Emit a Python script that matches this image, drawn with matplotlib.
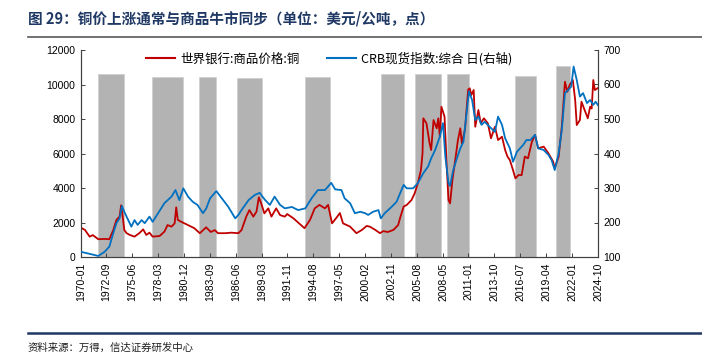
import numpy as np
import matplotlib
matplotlib.use("Agg")
from matplotlib import pyplot as plt
from matplotlib.lines import Line2D

plt.rcParams['font.family'] = ['Liberation Sans', 'Noto Sans CJK SC', 'DejaVu Sans']
CJK = ['Noto Sans CJK SC', 'DejaVu Sans']

# 世界银行:商品价格:铜 (USD/t)
cu_dates = ["1970-01", "1970-06", "1970-12", "1971-04", "1971-11", "1972-07", "1973-01", "1973-06",
            "1973-10", "1974-02", "1974-04", "1974-06", "1974-08", "1974-11", "1975-03", "1975-09",
            "1976-03", "1976-08", "1976-12", "1977-04", "1977-08", "1978-05", "1978-11", "1979-03",
            "1979-08", "1979-12", "1980-02", "1980-04", "1980-08", "1981-05", "1982-01", "1982-08",
            "1983-04", "1983-10", "1984-03", "1984-07", "1985-04", "1985-12", "1986-09", "1987-01",
            "1987-07", "1987-11", "1988-04", "1988-08", "1988-11", "1989-02", "1989-06", "1989-11",
            "1990-03", "1990-09", "1991-02", "1991-08", "1991-11", "1992-07", "1993-09", "1994-04",
            "1994-10", "1995-04", "1995-11", "1996-03", "1996-08", "1997-02", "1997-06", "1997-10",
            "1998-07", "1999-03", "1999-10", "2000-04", "2000-08", "2001-03", "2001-09", "2002-01",
            "2002-07", "2003-02", "2003-08", "2003-11", "2004-03", "2004-07", "2005-01", "2005-05",
            "2005-09", "2006-01", "2006-03", "2006-04", "2006-08", "2006-12", "2007-02", "2007-05",
            "2007-09", "2007-11", "2008-01", "2008-03", "2008-07", "2008-10", "2008-12", "2009-02",
            "2009-05", "2009-08", "2009-12", "2010-03", "2010-05", "2010-09", "2011-01", "2011-03",
            "2011-05", "2011-08", "2011-10", "2012-02", "2012-05", "2012-09", "2013-02", "2013-06",
            "2013-11", "2014-03", "2014-08", "2014-12", "2015-03", "2015-06", "2015-10", "2016-01",
            "2016-05", "2016-09", "2017-01", "2017-05", "2017-10", "2018-02", "2018-06", "2019-01",
            "2019-07", "2020-01", "2020-03", "2020-08", "2020-12", "2021-04", "2021-07", "2021-10",
            "2022-02", "2022-05", "2022-07", "2022-11", "2023-01", "2023-05", "2023-09", "2023-12",
            "2024-02", "2024-04", "2024-06", "2024-10"]
cu_values = [1700, 1570, 1180, 1270, 1030, 1050, 1030, 1560,
             2150, 2340, 3000, 2340, 1570, 1380, 1280, 1180,
             1380, 1600, 1280, 1410, 1180, 1220, 1470, 1850,
             1760, 1950, 2880, 2150, 2050, 1850, 1670, 1380,
             1720, 1450, 1560, 1380, 1380, 1410, 1380, 1560,
             2340, 2720, 2340, 2630, 3460, 3110, 2530, 2820,
             2340, 2820, 2430, 2340, 2490, 2240, 1670, 2150,
             2820, 3020, 2820, 3020, 1950, 2300, 2550, 1950,
             1760, 1380, 1570, 1800, 1760, 1570, 1380, 1500,
             1450, 1570, 1850, 2340, 2920, 3020, 3300, 3690,
             4270, 5040, 6010, 8040, 7750, 6590, 6200, 7940,
             7460, 8040, 6970, 8710, 8130, 5040, 3300, 3110,
             4460, 5430, 6780, 7460, 6590, 7400, 9700, 9780,
             9390, 9680, 7550, 8520, 7750, 8040, 7750, 6880,
             7550, 6780, 6970, 6200, 5820, 5620, 5040, 4560,
             4750, 4750, 5820, 5720, 6680, 7070, 6300, 6400,
             6010, 5530, 5140, 5820, 7550, 10160, 9580, 9970,
             10260, 9100, 7650, 7940, 9000, 8520, 8040, 8710,
             8610, 10260, 9680, 9800]

# CRB现货指数:综合 (right axis)
crb_dates = ["1970-01", "1971-02", "1971-11", "1972-07", "1973-01", "1973-06", "1973-10", "1974-02",
             "1974-05", "1974-08", "1975-01", "1975-05", "1975-09", "1976-01", "1976-06", "1976-10",
             "1977-04", "1977-08", "1978-03", "1978-11", "1979-08", "1980-01", "1980-06", "1980-11",
             "1981-05", "1981-11", "1982-05", "1982-12", "1983-04", "1983-09", "1984-05", "1984-12",
             "1985-08", "1986-05", "1986-09", "1987-01", "1987-10", "1988-06", "1988-12", "1989-07",
             "1990-01", "1990-07", "1991-02", "1991-08", "1992-05", "1993-01", "1993-10", "1994-06",
             "1995-02", "1995-11", "1996-07", "1996-12", "1997-08", "1997-12", "1998-07", "1999-01",
             "1999-08", "2000-02", "2000-06", "2000-12", "2001-07", "2001-10", "2002-03", "2002-12",
             "2003-06", "2004-03", "2004-07", "2005-03", "2005-09", "2006-04", "2006-10", "2007-02",
             "2007-07", "2008-01", "2008-05", "2008-08", "2008-12", "2009-02", "2009-06", "2009-10",
             "2010-03", "2010-07", "2010-11", "2011-02", "2011-06", "2011-10", "2012-02", "2012-06",
             "2012-10", "2013-04", "2013-11", "2014-03", "2014-08", "2014-12", "2015-06", "2015-10",
             "2016-03", "2016-07", "2016-11", "2017-03", "2017-08", "2018-02", "2018-06", "2019-01",
             "2019-07", "2019-11", "2020-03", "2020-08", "2020-12", "2021-04", "2021-08", "2021-12",
             "2022-03", "2022-07", "2022-11", "2023-03", "2023-08", "2023-12", "2024-04", "2024-07",
             "2024-10"]
crb_values = [115, 108, 103, 115, 130, 169, 198, 212,
              248, 231, 207, 188, 207, 193, 207, 198,
              217, 202, 227, 256, 275, 294, 265, 299,
              275, 260, 251, 227, 240, 270, 291, 270,
              246, 212, 222, 236, 265, 280, 286, 265,
              251, 275, 251, 241, 245, 236, 241, 270,
              294, 294, 315, 296, 294, 270, 256, 227,
              231, 227, 222, 231, 236, 212, 227, 246,
              260, 309, 299, 299, 314, 343, 362, 386,
              410, 449, 488, 391, 314, 306, 352, 381,
              415, 434, 517, 580, 555, 497, 507, 483,
              492, 478, 463, 507, 483, 444, 415, 376,
              405, 415, 425, 439, 439, 454, 415, 410,
              396, 381, 352, 401, 468, 575, 584, 594,
              652, 613, 565, 575, 546, 555, 541, 550,
              540]

# grey shading = commodity bull markets
bull_start = ["1971-11", "1977-07", "1982-07", "1986-07", "1993-10", "2001-10", "2005-05", "2008-10", "2015-12", "2020-05"]
bull_end = ["1974-08", "1980-11", "1984-05", "1989-03", "1996-05", "2004-03", "2008-03", "2011-02", "2018-03", "2021-11"]
bull_height = [10600, 10420, 10440, 10380, 10420, 10600, 10600, 10600, 10500, 11100]

xtick_labels = ["1970-01", "1972-09", "1975-06", "1978-03", "1980-12", "1983-09", "1986-06", "1989-03",
                "1991-11", "1994-08", "1997-05", "2000-02", "2002-11", "2005-08", "2008-05", "2011-01",
                "2013-10", "2016-07", "2019-04", "2022-01", "2024-10"]


def month_index(s):
    y, m = s.split("-")
    return (int(y) - 1970) * 12 + int(m) - 1


def to_idx(lst):
    return np.array([month_index(s) for s in lst])


fig = plt.figure(figsize=(7.02, 3.64), dpi=100)
ax = fig.add_axes([81 / 702, 1 - 257 / 364, (598 - 81) / 702, (257 - 50) / 364])
ax2 = ax.twinx()

bs = to_idx(bull_start)
be = to_idx(bull_end)
ax.bar(bs, bull_height, width=be - bs, align='edge', color='#B3B3B3',
       edgecolor='#D0D0D0', linewidth=0.6, zorder=1)
ax.plot(to_idx(cu_dates), cu_values, color='#C00000', lw=1.3, zorder=3)
ax2.plot(to_idx(crb_dates), crb_values, color='#0070C0', lw=1.3, zorder=3)

ax.set_xlim(0, 657)
ax.set_ylim(0, 12000)
ax.set_yticks(np.arange(0, 12001, 2000))
ax2.set_ylim(100, 700)
ax2.set_yticks(np.arange(100, 701, 100))
ax.set_xticks(to_idx(xtick_labels))
ax.set_xticklabels(xtick_labels, rotation=90)

for a in (ax, ax2):
    a.spines['top'].set_visible(False)
    for sp in a.spines.values():
        sp.set_color('#404040')
        sp.set_linewidth(0.8)
    a.tick_params(direction='in', length=3, width=0.7, colors='#404040',
                  labelcolor='black', labelsize=7.5, pad=4)

# legend
h1 = Line2D([], [], color='#C00000', lw=1.5)
h2 = Line2D([], [], color='#0070C0', lw=1.5)
leg = ax.legend([h1, h2], ["世界银行:商品价格:铜", "CRB现货指数:综合 日(右轴)"],
                ncol=2, loc='upper center', bbox_to_anchor=(0.48, 1.045), frameon=False,
                handlelength=2.3, columnspacing=2.2, handletextpad=0.4,
                prop={'family': CJK, 'size': 9})

# title, rules and source
fig.text(28 / 702, 1 - 18 / 364, "图 29：铜价上涨通常与商品牛市同步（单位：美元/公吨，点）",
         family=CJK, fontsize=10.5, fontweight='bold', color='#1F3864', va='center')
fig.add_artist(Line2D([28 / 702, 1.0], [1 - 37 / 364] * 2, color='#595959', lw=1.2))
fig.add_artist(Line2D([28 / 702, 1.0], [1 - 333 / 364] * 2, color='#1F3864', lw=1.8))
fig.text(28 / 702, 1 - 348 / 364, "资料来源：万得，信达证券研发中心",
         family=CJK, fontsize=7.5, color='#202020', va='center')

fig.savefig('out.png', dpi=100)
